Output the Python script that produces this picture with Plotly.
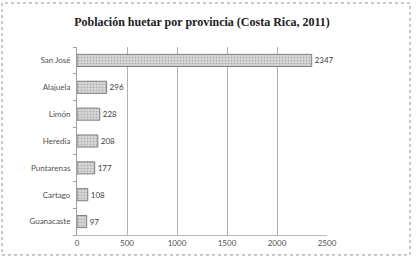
import plotly.graph_objects as go

provincias = ["San José", "Alajuela", "Limón", "Heredia", "Puntarenas", "Cartago", "Guanacaste"]
poblacion = [2347, 296, 228, 208, 177, 108, 97]
x_ticks = [0, 500, 1000, 1500, 2000, 2500]

fig = go.Figure(go.Bar(
    y=provincias,
    x=poblacion,
    orientation="h",
    marker=dict(
        color="#d0d0d0",
        line=dict(color="#7f7f7f", width=1),
        pattern=dict(shape=".", fgcolor="#8a8a8a", bgcolor="#d8d8d8", size=3, solidity=0.35),
    ),
    text=[str(v) for v in poblacion],
    textposition="outside",
    textfont=dict(family="Lato, Open Sans, sans-serif", size=8, color="#404040"),
    cliponaxis=False,
))

fig.update_layout(
    width=418, height=266,
    margin=dict(l=77, r=91, t=47, b=31),
    paper_bgcolor="white",
    plot_bgcolor="white",
    bargap=0.55,
    showlegend=False,
    title=dict(
        text="<b>Población huetar por provincia (Costa Rica, 2011)</b>",
        x=0.5, xanchor="center", xref="paper",
        y=1 - 22 / 266, yanchor="middle",
        font=dict(family="Liberation Serif, DejaVu Serif, serif", size=12, color="#202020"),
    ),
    xaxis=dict(
        range=[0, 2500],
        tickvals=x_ticks,
        ticktext=[str(v) for v in x_ticks],
        showgrid=True, gridcolor="#b0b0b0", gridwidth=1,
        zeroline=False,
        showline=True, linecolor="#b8b8b8", linewidth=1,
        ticks="",
        tickfont=dict(family="Lato, Open Sans, sans-serif", size=8, color="#505050"),
        fixedrange=True,
        automargin=False,
    ),
    yaxis=dict(
        categoryorder="array",
        categoryarray=provincias[::-1],
        showline=True, linecolor="#a0a0a0", linewidth=1,
        ticks="outside", tickson="boundaries", ticklen=3, tickcolor="#a0a0a0",
        showgrid=False,
        tickfont=dict(family="Lato, Open Sans, sans-serif", size=8, color="#505050"),
        ticklabelstandoff=4,
        automargin=False,
    ),
    shapes=[dict(
        type="rect", xref="paper", yref="paper",
        x0=-0.3, x1=1.332, y0=-0.106, y1=1.234,
        line=dict(color="#909090", width=1, dash="dot"),
        layer="below",
    )],
)

fig.write_html(
    "out.html",
    config={"displayModeBar": False},
    post_script="document.body.style.margin='0';",
)
